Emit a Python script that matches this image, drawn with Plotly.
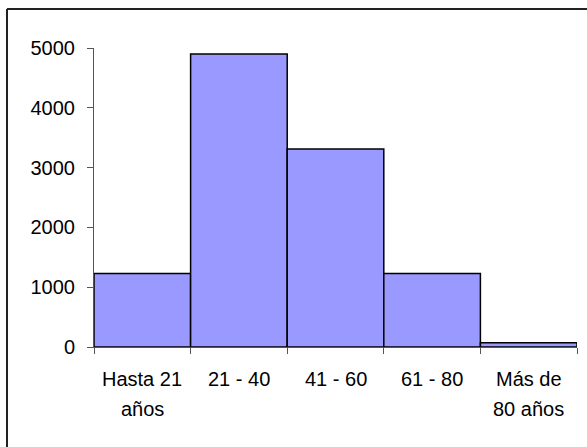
import plotly.graph_objects as go

categories = ["Hasta 21\naños", "21 - 40", "41 - 60", "61 - 80", "Más de\n80 años"]
values = [1230, 4900, 3310, 1230, 70]
y_ticks = [0, 1000, 2000, 3000, 4000, 5000]

FONT = "Liberation Sans, Arial, sans-serif"

n = len(categories)
fig = go.Figure()
fig.add_trace(go.Bar(
    x=list(range(n)),
    y=values,
    width=1,
    marker=dict(color="#9999FF", line=dict(color="black", width=1.5)),
    hoverinfo="skip",
))

annotations = []
for i, cat in enumerate(categories):
    for j, line in enumerate(cat.split("\n")):
        annotations.append(dict(
            x=i, xref="x", y=0, yref="paper",
            text=line, showarrow=False,
            xanchor="center", yanchor="middle",
            yshift=-32 - 30 * j,
            font=dict(family=FONT, size=20, color="black"),
        ))

W, H = 587, 447
L, R, T, B = 94, 10, 48, 100
pw, ph = W - L - R, H - T - B
bx = (7 - L) / pw
by = (H - B - 9) / ph

boundaries = [i - 0.5 for i in range(n + 1)]

fig.update_layout(
    width=W, height=H,
    margin=dict(l=L, r=R, t=T, b=B, pad=0),
    paper_bgcolor="white", plot_bgcolor="white",
    showlegend=False,
    bargap=0,
    annotations=annotations,
    font=dict(family=FONT, size=20, color="black"),
    xaxis=dict(
        range=[-0.5, n - 0.5],
        tickmode="array",
        tickvals=boundaries,
        ticktext=[""] * len(boundaries),
        ticks="outside", ticklen=6, tickcolor="#555", tickwidth=1,
        showline=True, linecolor="#555", linewidth=1,
        showgrid=False, zeroline=False, fixedrange=True,
    ),
    yaxis=dict(
        range=[0, 5000],
        tickvals=y_ticks,
        ticks="outside", ticklen=6, tickcolor="#555", tickwidth=1,
        ticklabelstandoff=8,
        showline=True, linecolor="#555", linewidth=1,
        showgrid=False, zeroline=False, fixedrange=True,
        tickfont=dict(family=FONT, size=20, color="black"),
    ),
    shapes=[
        dict(type="line", xref="paper", yref="paper", x0=bx, x1=1.5, y0=by, y1=by,
             line=dict(color="#222", width=2)),
        dict(type="line", xref="paper", yref="paper", x0=bx, x1=bx, y0=-1, y1=by,
             line=dict(color="#222", width=2)),
    ],
)

fig.write_html(
    "out.html",
    config={"displayModeBar": False, "staticPlot": True},
    post_script="document.body.style.margin='0';document.body.style.overflow='hidden';",
)
